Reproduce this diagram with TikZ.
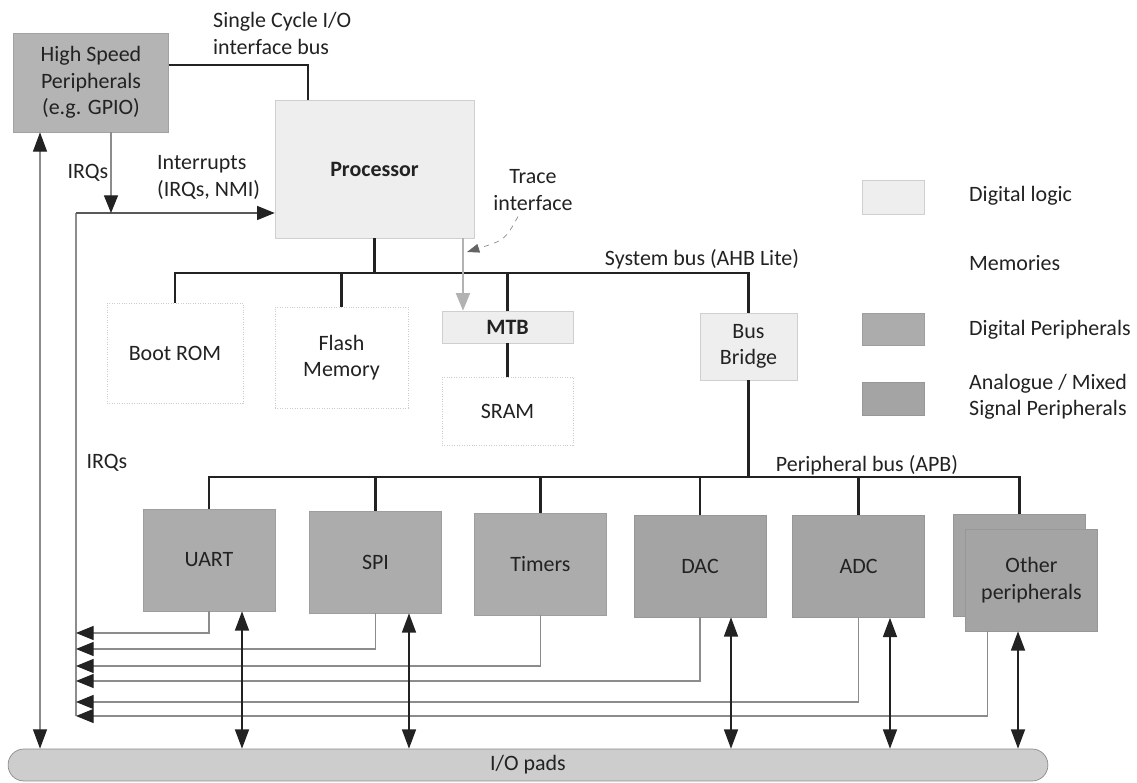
\documentclass[tikz,border=0pt]{standalone}
\usepackage{fontspec}
\setmainfont{Carlito}
\usepackage{tikz}
\usetikzlibrary{arrows.meta,calc}
\definecolor{mInk}{HTML}{222222}
\definecolor{mWire}{HTML}{8C8C8C}
\definecolor{mLogic}{HTML}{EEEEEE}
\definecolor{mLogicEdge}{HTML}{CFCFCF}
\definecolor{mMemEdge}{HTML}{CCCCCC}
\definecolor{mHsp}{HTML}{B4B4B4}
\definecolor{mDigPer}{HTML}{ACACAC}
\definecolor{mAnaPer}{HTML}{A4A4A4}
\definecolor{mPads}{HTML}{CDCDCD}
\definecolor{mPadEdge}{HTML}{8A8A8A}
\tikzset{
  hspbox/.style={draw=mHsp!90!black, fill=mHsp},
  logicbox/.style={draw=mLogicEdge, fill=mLogic},
  membox/.style={draw=mMemEdge, densely dotted, fill=white},
  padbox/.style={draw=mPadEdge, fill=mPads, rounded corners=9pt},
  bus/.style={draw=mInk, line width=1.5pt},
  wire/.style={draw=mWire, line width=0.6pt},
  irq/.style={wire, -{Triangle[length=10pt,width=8pt,color=mInk]}},
  pinio/.style={draw=mInk, line width=0.9pt, {Triangle[length=11pt,width=8pt]}-{Triangle[length=11pt,width=8pt]}},
  hspio/.style={wire, {Triangle[length=11pt,width=8pt,color=mInk]}-{Triangle[length=11pt,width=8pt,color=mInk]}},
  trace/.style={draw=black!30, line width=1pt, -{Triangle[length=10pt,width=8pt]}}
}
\newcommand{\pnode}[5]{%
\ifnum#5=1
 \node[draw=mDigPer!92!black, fill=mDigPer, minimum width=2.64cm, minimum height=2.04cm] (#3) at (#1,#2) {#4};%
\else
 \node[draw=mAnaPer!92!black, fill=mAnaPer, minimum width=2.64cm, minimum height=2.04cm] (#3) at (#1,#2) {#4};%
\fi}

\begin{document}
\begin{tikzpicture}[x=0.02cm, y=-0.02cm, every node/.append style={font=\fontsize{12.5}{15}\selectfont, text=mInk, align=center}]
\useasboundingbox (0,0) rectangle (1137,783);

% core blocks
\node[hspbox, minimum width=3.1cm, minimum height=1.98cm] (hsp) at (91,82.5) {High Speed\\Peripherals\\(e.g. GPIO)};
\node[logicbox, minimum width=3.98cm, minimum height=2.76cm] (proc) at (374.5,169) {\textbf{Processor}};
\node[membox, minimum width=2.72cm, minimum height=2.0cm] (boot) at (175,353) {Boot ROM};
\node[membox, minimum width=2.66cm, minimum height=2.02cm] (flash) at (341.5,357.5) {Flash\\Memory};
\node[logicbox, minimum width=2.62cm, minimum height=0.64cm] (mtb) at (507.5,327) {\textbf{MTB}};
\node[membox, minimum width=2.62cm, minimum height=1.36cm] (sram) at (507.5,411) {SRAM};
\node[logicbox, minimum width=1.94cm, minimum height=1.34cm] (bridge) at (748.5,346.5) {Bus\\Bridge};

% peripherals
\pnode{209}{560}{uart}{UART}{1}
\pnode{375.5}{562}{spi}{SPI}{1}
\pnode{540.5}{564}{timers}{Timers}{1}
\pnode{700}{566}{dac}{DAC}{2}
\pnode{858.5}{566.5}{adc}{ADC}{2}
\pnode{1019.5}{565.5}{otherB}{}{2}
\pnode{1031.5}{580}{other}{Other\\peripherals}{2}
\node[padbox, minimum width=20.8cm, minimum height=0.64cm] (pads) at (528,765) {I/O pads};

% buses
\coordinate (sysbus) at (0,273);
\coordinate (perbus) at (0,477);
\draw[bus] (boot.north) -- (boot.north |- sysbus) -- (bridge.north |- sysbus) -- (bridge.north);
\foreach \n in {proc.south, flash.north, mtb.north}
  \draw[bus] (\n) -- (\n |- sysbus);
\draw[bus] (mtb.south) -- (sram.north);
\draw[bus] (bridge.south) -- (bridge.south |- perbus);
\draw[bus] (uart.north) -- (uart.north |- perbus) -- (otherB.north |- perbus) -- (otherB.north);
\foreach \n in {spi, timers, dac, adc}
  \draw[bus] (\n.north) -- (\n.north |- perbus);
\node (sysLbl) at (702,259) {System bus (AHB Lite)};
\node (perLbl) at (867,465) {Peripheral bus (APB)};

% single cycle I/O
\coordinate (hspBus) at ([yshift=0.35cm]hsp.east);
\coordinate (procIo) at ([xshift=-1.33cm]proc.north);
\draw[bus] (hspBus) -| (procIo);
\node[anchor=west, align=left] (scLbl) at (207,33.5) {Single Cycle I/O\\interface bus};

% interrupts
\coordinate (irqtop) at (76,213);
\coordinate (irqbot) at (76,716);
\draw[wire] (irqbot) -- (irqtop);
\draw[wire, draw=black!65, -{Triangle[length=10pt,width=8pt,color=mInk]}] (irqtop) -- (proc.west |- irqtop);
\coordinate (hspIrq) at ([xshift=0.4cm]hsp.south);
\draw[irq] (hspIrq) -- (hspIrq |- irqtop);
\foreach \n/\lev in {uart/633, spi/649, timers/666, dac/681, adc/702} {
  \coordinate (irq\n) at (76,\lev);
  \draw[irq] (\n.south) |- (irq\n);
}
\coordinate (otherIrq) at ([xshift=-0.88cm]other.south);
\draw[irq] (otherIrq) |- (irqbot);
\node (irqLbl) at (88,173) {IRQs};
\node (irqLbl2) at (107,463) {IRQs};
\node[anchor=west, align=left] (intLbl) at (151,177.5) {Interrupts\\(IRQs, NMI)};

% pins
\coordinate (hspIo) at ([xshift=-1.02cm]hsp.south);
\draw[hspio] (hspIo) -- (hspIo |- pads.north);
\foreach \n/\dx in {uart/0.66, spi/0.67, dac/0.62, adc/0.63, other/-0.27} {
  \coordinate (io\n) at ([xshift=\dx cm]\n.south);
  \draw[pinio] (io\n) -- (io\n |- pads.north);
}

% trace
\coordinate (procTrace) at ([xshift=1.77cm]proc.south);
\draw[trace] (procTrace) -- (procTrace |- mtb.north);
\node (traceLbl) at (533,190) {Trace\\interface};
\coordinate (traceHit) at (467,252);
\draw[dashed, mWire, -{Triangle[length=7pt,width=5pt,color=mInk!70]}] ([xshift=-0.3cm]traceLbl.south) .. controls (505,240) .. (traceHit);

% legend
\node[logicbox, minimum width=1.24cm, minimum height=0.68cm] (lgLogic) at (893,197) {};
\node[draw=mDigPer!92!black, fill=mDigPer, minimum width=1.24cm, minimum height=0.64cm] (lgDig) at (893,329) {};
\node[draw=mAnaPer!92!black, fill=mAnaPer, minimum width=1.24cm, minimum height=0.66cm] (lgAna) at (893,398.5) {};
\node[anchor=west] (lgLogicTxt) at (963,196) {Digital logic};
\node[anchor=west] (lgMemTxt) at (963,263) {Memories};
\node[anchor=west] (lgDigTxt) at (963,330) {Digital Peripherals};
\node[anchor=west, align=left] (lgAnaTxt) at (963,397) {Analogue / Mixed\\Signal Peripherals};
\end{tikzpicture}
\end{document}
